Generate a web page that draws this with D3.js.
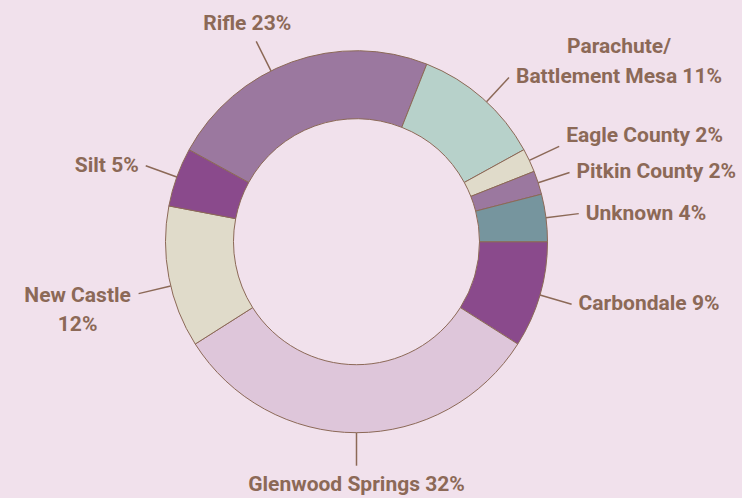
<!DOCTYPE html>
<html>
<head>
<meta charset="utf-8">
<script src="https://cdn.jsdelivr.net/npm/d3@7"></script>
<style>
  html, body { margin: 0; padding: 0; background: #f1e1ec; }
  svg { display: block; }
  .label { font-family: Roboto, "Noto Sans", sans-serif; font-weight: 700; font-size: 21px; fill: #8c6957; }
</style>
</head>
<body>
<svg width="742" height="498"></svg>
<script>
const W = 742;
const H = 498;

// data, clockwise from 3 o'clock
const places = ['Carbondale', 'Glenwood Springs', 'New Castle', 'Silt', 'Rifle',
  'Parachute/ Battlement Mesa', 'Eagle County', 'Pitkin County', 'Unknown'];
const shares = [9, 32, 12, 5, 23, 11, 2, 2, 4];
const colors = ['#8a4a8c', '#dec6da', '#e0dbca', '#8a4a8c', '#9b789f',
  '#b7d1ca', '#e0dbca', '#9b789f', '#76959e'];

const data = places.map((p, i) => ({ place: p, value: shares[i], color: colors[i] }));

const cx = 356.5;
const cy = 241.7;
const outerR = 191;
const innerR = 123;
const leaderLen = 33;
const brown = '#8c6957';

const svg = d3.select('svg');
const chart = svg.append('g')
  .attr('transform', `translate(${cx}, ${cy})`);

const pie = d3.pie()
  .sort(null)
  .value(d => d.value)
  .startAngle(Math.PI / 2)
  .endAngle(Math.PI / 2 + 2 * Math.PI);

const arc = d3.arc()
  .innerRadius(innerR)
  .outerRadius(outerR);

const arcs = pie(data);

chart.selectAll('path.slice')
  .data(arcs)
  .enter()
  .append('path')
  .attr('class', 'slice')
  .attr('d', arc)
  .attr('fill', d => d.data.color)
  .attr('stroke', brown)
  .attr('stroke-width', 1);

// label layout: leader angle override (deg), text offset from leader end, anchor, lines
const layout = {
  'Carbondale': { dx: 7, dy: 6, anchor: 'start', lines: ['Carbondale 9%'] },
  'Glenwood Springs': { dx: 0, dy: 25, anchor: 'middle', lines: ['Glenwood Springs 32%'] },
  'New Castle': { angle: 256.6, dx: -61, dy: 8, anchor: 'middle', lines: ['New Castle', '12%'] },
  'Silt': { dx: -7, dy: 6, anchor: 'end', lines: ['Silt 5%'] },
  'Rifle': { angle: 333.4, dx: -9, dy: -11, anchor: 'middle', lines: ['Rifle 23%'] },
  'Parachute/ Battlement Mesa': { angle: 42.9, dx: 110, dy: -24.3, anchor: 'middle', lines: ['Parachute/', 'Battlement Mesa 11%'] },
  'Eagle County': { dx: 7, dy: -4.6, anchor: 'start', lines: ['Eagle County 2%'] },
  'Pitkin County': { dx: 7, dy: 6, anchor: 'start', lines: ['Pitkin County 2%'] },
  'Unknown': { dx: 7, dy: 6, anchor: 'start', lines: ['Unknown 4%'] }
};

const lineGap = 29.5;

arcs.forEach(a => {
  const l = layout[a.data.place];
  const ang = l.angle !== undefined ? l.angle * Math.PI / 180 : (a.startAngle + a.endAngle) / 2;
  const sx = outerR * Math.sin(ang);
  const sy = -outerR * Math.cos(ang);
  const ex = (outerR + leaderLen) * Math.sin(ang);
  const ey = -(outerR + leaderLen) * Math.cos(ang);

  chart.append('line')
    .attr('x1', sx)
    .attr('y1', sy)
    .attr('x2', ex)
    .attr('y2', ey)
    .attr('stroke', brown)
    .attr('stroke-width', 1.5);

  const text = chart.append('text')
    .attr('class', 'label')
    .attr('text-anchor', l.anchor)
    .attr('x', ex + l.dx)
    .attr('y', ey + l.dy);

  l.lines.forEach((t, i) => {
    text.append('tspan')
      .attr('x', ex + l.dx)
      .attr('dy', i === 0 ? 0 : lineGap)
      .text(t);
  });
});
</script>
</body>
</html>
